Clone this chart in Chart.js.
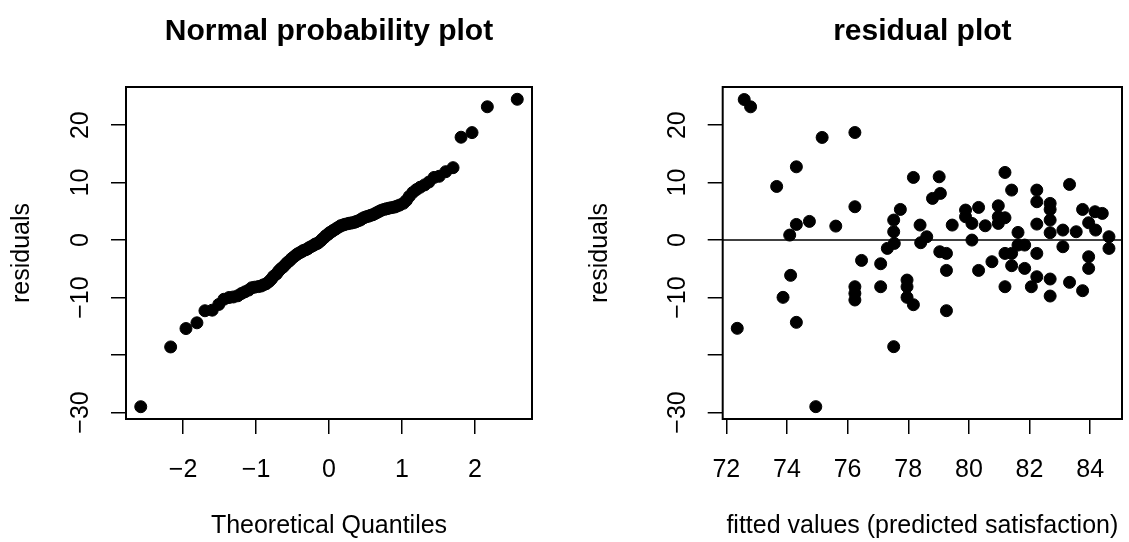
<!DOCTYPE html>
<html lang="en">
<head>
<meta charset="UTF-8">
<title>Residual diagnostics</title>
<script src="https://cdn.jsdelivr.net/npm/chart.js"></script>
<style>
  body { margin: 0; background: #fff; }
  #wrap { position: relative; width: 1129px; height: 542px; background: #fff; }
  canvas { position: absolute; top: 0; }
</style>
</head>
<body>
<div id="wrap">
  <canvas id="qq" width="564" height="542" style="left:0"></canvas>
  <canvas id="resid" width="565" height="542" style="left:564px"></canvas>
</div>
<script>
// normal probability plot: theoretical quantiles vs sorted residuals (100 obs)
const qqTheoretical = [-2.58,-2.17,-1.96,-1.81,-1.70,-1.60,-1.51,-1.44,-1.37,-1.31,
  -1.25,-1.20,-1.15,-1.10,-1.06,-1.02,-0.97,-0.93,-0.90,-0.86,
  -0.82,-0.79,-0.76,-0.72,-0.69,-0.66,-0.63,-0.60,-0.57,-0.54,
  -0.51,-0.48,-0.45,-0.43,-0.40,-0.37,-0.35,-0.32,-0.29,-0.27,
  -0.24,-0.21,-0.19,-0.16,-0.14,-0.11,-0.09,-0.06,-0.04,-0.01,
  0.01,0.04,0.06,0.09,0.11,0.14,0.16,0.19,0.21,0.24,
  0.27,0.29,0.32,0.35,0.37,0.40,0.43,0.45,0.48,0.51,
  0.54,0.57,0.60,0.63,0.66,0.69,0.72,0.76,0.79,0.82,
  0.86,0.90,0.93,0.97,1.02,1.06,1.10,1.15,1.20,1.25,
  1.31,1.37,1.44,1.51,1.60,1.70,1.81,1.96,2.17,2.58];
const qqResiduals = [-29.0,-18.6,-15.4,-14.4,-12.3,-12.2,-11.2,-10.3,-10.0,-9.9,
  -9.7,-9.3,-9.0,-8.7,-8.3,-8.2,-8.1,-8.0,-7.8,-7.6,
  -7.2,-6.8,-6.3,-5.9,-5.4,-5.0,-4.7,-4.3,-3.9,-3.6,
  -3.2,-2.9,-2.6,-2.4,-2.2,-2.0,-1.8,-1.7,-1.5,-1.3,
  -1.1,-0.9,-0.7,-0.6,-0.4,-0.1,0.2,0.5,0.8,1.0,
  1.3,1.5,1.7,1.9,2.1,2.3,2.5,2.6,2.7,2.8,
  2.9,2.95,3.0,3.1,3.2,3.35,3.5,3.7,3.9,4.05,
  4.15,4.3,4.4,4.6,4.8,5.0,5.2,5.35,5.45,5.55,
  5.65,5.75,5.9,6.1,6.4,6.9,7.6,8.3,8.8,9.2,
  9.6,10.1,10.9,11.1,11.9,12.6,17.9,18.7,23.2,24.5];

// residual plot: fitted values vs residuals
const fitted = [72.36,72.59,72.80,73.66,73.87,74.09,74.12,74.31,74.31,74.31,
  74.74,74.95,75.16,75.61,76.24,76.24,76.24,76.24,76.24,76.46,
  77.09,77.09,77.31,77.52,77.52,77.52,77.54,77.74,77.96,77.96,
  77.96,78.17,78.17,78.39,78.41,78.61,78.80,79.02,79.06,79.04,
  79.26,79.26,79.26,79.45,79.89,79.89,80.10,80.10,80.32,80.32,
  80.54,80.76,80.97,80.97,80.97,81.19,81.19,81.19,81.19,81.41,
  81.41,81.41,81.62,81.62,81.84,81.84,82.06,82.24,82.24,82.24,
  82.24,82.24,82.68,82.68,82.68,82.68,82.68,82.68,83.10,83.10,
  83.32,83.32,83.54,83.75,83.75,83.95,83.95,83.95,84.16,84.18,
  84.40,84.62,84.62];
const residuals = [-15.36,24.46,23.19,9.33,-9.97,0.87,-6.14,12.75,2.72,-14.32,
  3.25,-28.99,17.86,2.43,18.72,5.80,-8.12,-9.28,-10.43,-3.54,
  -4.12,-8.12,-1.45,3.48,1.45,-18.55,-0.58,5.33,-6.96,-8.12,
  -9.97,10.90,-11.25,2.61,-0.46,0.58,7.25,11.01,8.12,-2.03,
  -2.32,-5.28,-12.29,2.61,5.22,4.06,2.90,0.00,5.68,-5.28,
  2.49,-3.77,5.97,4.06,2.90,11.77,3.88,-2.32,-8.12,8.70,
  -2.32,-4.46,1.33,-0.87,-0.87,-4.93,-8.12,8.70,6.67,2.78,
  -2.32,-6.38,6.38,5.33,3.48,1.28,-6.78,-9.74,1.74,-1.16,
  9.68,-7.36,1.45,5.33,-8.81,3.01,-2.90,-4.93,4.93,1.74,
  4.64,0.58,-1.45];

const qqXTicks = [-2, -1, 0, 1, 2];
const fitXTicks = [72, 74, 76, 78, 80, 82, 84];
const residTicks = [-30, -20, -10, 0, 10, 20];
// R drops the -20 label because it would overlap its neighbours
const residTickLabels = ['\u221230', '', '\u221210', '0', '10', '20'];

const FONT = '"Liberation Sans", Arial, Helvetica, sans-serif';
Chart.defaults.color = '#000';
Chart.defaults.font.family = FONT;

const minus = v => String(v).replace('-', '\u2212');

// R-style box round the plot region plus rotated y tick labels
const boxAndYLabels = {
  id: 'boxAndYLabels',
  afterDraw(chart) {
    const {ctx, chartArea: a, scales: {y}} = chart;
    ctx.save();
    ctx.strokeStyle = '#000';
    ctx.lineWidth = 2;
    ctx.strokeRect(a.left, a.top, a.right - a.left, a.bottom - a.top);
    ctx.fillStyle = '#000';
    ctx.font = '25px ' + FONT;
    ctx.textAlign = 'center';
    ctx.textBaseline = 'middle';
    residTicks.forEach((v, i) => {
      if (!residTickLabels[i]) return;
      ctx.save();
      ctx.translate(a.left - 45, y.getPixelForValue(v));
      ctx.rotate(-Math.PI / 2);
      ctx.fillText(residTickLabels[i], 0, 0);
      ctx.restore();
    });
    ctx.restore();
  }
};

const dots = {
  pointRadius: 6,
  pointHoverRadius: 6,
  backgroundColor: '#000',
  borderColor: '#000',
  borderWidth: 1
};

function panel(id, o) {
  return new Chart(document.getElementById(id), {
    type: 'scatter',
    data: { datasets: o.datasets },
    options: {
      responsive: false,
      animation: false,
      events: [],
      layout: { padding: { left: 0, right: o.padRight, top: 0, bottom: 0 } },
      plugins: {
        legend: { display: false },
        tooltip: { enabled: false },
        title: {
          display: true, text: o.title, fullSize: false,
          font: { size: 30, weight: 'bold' },
          padding: { top: 14, bottom: 37 }
        }
      },
      scales: {
        x: {
          type: 'linear', min: o.xMin, max: o.xMax,
          afterBuildTicks: s => { s.ticks = o.xTicks.map(v => ({ value: v })); },
          afterFit: s => { s.height = 123; },
          ticks: { font: { size: 25 }, padding: 21, maxRotation: 0, autoSkip: false, callback: v => minus(v) },
          grid: { drawOnChartArea: false, color: '#000', lineWidth: 1.5, tickLength: 15 },
          border: { display: false },
          title: { display: true, text: o.xTitle, font: { size: 25 }, padding: { top: 0, bottom: 1 } }
        },
        y: {
          type: 'linear', min: -31.14, max: 26.64,
          afterBuildTicks: s => { s.ticks = residTicks.map(v => ({ value: v })); },
          afterFit: s => { s.width = o.yWidth; },
          ticks: { display: false },
          grid: { drawOnChartArea: false, color: '#000', lineWidth: 1.5, tickLength: 15 },
          border: { display: false },
          title: { display: true, text: 'residuals', font: { size: 25 }, padding: { top: o.yTitlePad, bottom: 0 } }
        }
      }
    },
    plugins: [boxAndYLabels]
  });
}

panel('qq', {
  title: 'Normal probability plot',
  xTitle: 'Theoretical Quantiles',
  xMin: -2.782, xMax: 2.782, xTicks: qqXTicks,
  yWidth: 126, padRight: 32, yTitlePad: 7,
  datasets: [Object.assign({ data: qqTheoretical.map((q, i) => ({ x: q, y: qqResiduals[i] })) }, dots)]
});

const fitMin = 71.88, fitMax = 85.05;
panel('resid', {
  title: 'residual plot',
  xTitle: 'fitted values (predicted satisfaction)',
  xMin: fitMin, xMax: fitMax, xTicks: fitXTicks,
  yWidth: 158.7, padRight: 2, yTitlePad: 21,
  datasets: [
    Object.assign({ data: fitted.map((f, i) => ({ x: f, y: residuals[i] })) }, dots),
    { data: [{ x: fitMin, y: 0 }, { x: fitMax, y: 0 }], showLine: true, pointRadius: 0,
      borderColor: '#000', borderWidth: 1.5 }
  ]
});
</script>
</body>
</html>
